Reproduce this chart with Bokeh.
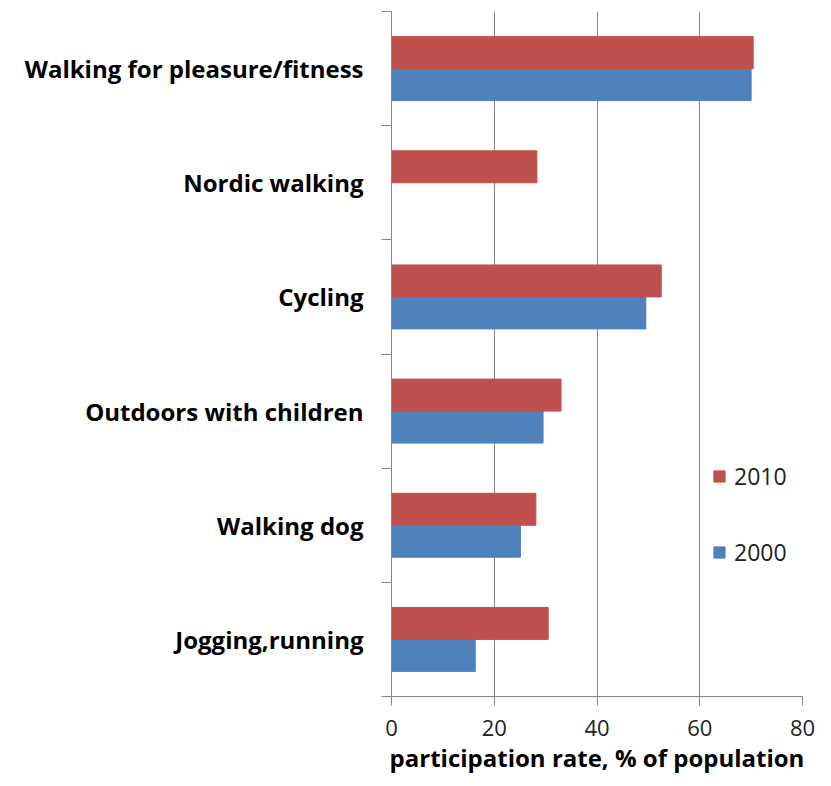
from bokeh.plotting import figure
from bokeh.models import FixedTicker, Legend, LegendItem, ColumnDataSource, Range1d
from bokeh.embed import file_html
from bokeh.resources import INLINE

categories = ["Walking for pleasure/fitness", "Nordic walking", "Cycling",
              "Outdoors with children", "Walking dog", "Jogging,running"]
values_2010 = [70.4, 28.3, 52.5, 33.0, 28.1, 30.5]
values_2000 = [70.0, 0.0, 49.5, 29.5, 25.1, 16.3]
x_ticks = [0, 20, 40, 60, 80]
series_names = ["2010", "2000"]
colors = ["#C0504D", "#4F81BD"]

n = len(categories)
centers = [n - i - 0.5 for i in range(n)]
bar_h = 0.28
GRAY = "#868686"
FONT = "Open Sans"

p = figure(frame_width=411, frame_height=685, output_backend="svg", toolbar_location=None,
           x_range=Range1d(0, 80), y_range=Range1d(0, n),
           min_border_left=391, min_border_top=11, min_border_right=13, min_border_bottom=74)
p.outline_line_color = None

src10 = ColumnDataSource(dict(y=[c + bar_h / 2 for c in centers], v=values_2010))
src00 = ColumnDataSource(dict(y=[c - bar_h / 2 for c in centers], v=values_2000))
r00 = p.hbar(y="y", right="v", left=0, height=bar_h, source=src00,
             fill_color=colors[1], line_color=colors[1])
r10 = p.hbar(y="y", right="v", left=0, height=bar_h, source=src10,
             fill_color=colors[0], line_color=colors[0])

# x axis
p.xaxis.ticker = FixedTicker(ticks=x_ticks)
p.xaxis.axis_line_color = GRAY
p.xaxis.major_tick_line_color = GRAY
p.xaxis.major_tick_out = 9
p.xaxis.major_tick_in = 0
p.xaxis.minor_tick_line_color = None
p.xaxis.major_label_text_font = FONT
p.xaxis.major_label_text_font_size = "22px"
p.xaxis.major_label_text_color = "#222222"
p.xaxis.major_label_standoff = 14
p.xaxis.axis_label = "participation rate, % of population"
p.xaxis.axis_label_text_font = FONT
p.xaxis.axis_label_text_font_style = "bold"
p.xaxis.axis_label_text_font_size = "24px"
p.xaxis.axis_label_text_color = "black"
p.xaxis.axis_label_standoff = 2

# y axis
p.yaxis.ticker = FixedTicker(ticks=centers, minor_ticks=list(range(n + 1)))
p.yaxis.major_label_overrides = {c: cat for c, cat in zip(centers, categories)}
p.yaxis.axis_line_color = GRAY
p.yaxis.major_tick_line_color = None
p.yaxis.major_tick_out = 0
p.yaxis.major_tick_in = 0
p.yaxis.minor_tick_line_color = GRAY
p.yaxis.minor_tick_out = 10
p.yaxis.minor_tick_in = 0
p.yaxis.major_label_text_font = FONT
p.yaxis.major_label_text_font_style = "bold"
p.yaxis.major_label_text_font_size = "24px"
p.yaxis.major_label_text_color = "black"
p.yaxis.major_label_standoff = 18

p.xgrid.ticker = FixedTicker(ticks=x_ticks)
p.xgrid.grid_line_color = GRAY
p.ygrid.grid_line_color = None

legend = Legend(items=[LegendItem(label=series_names[0], renderers=[r10]),
                       LegendItem(label=series_names[1], renderers=[r00])],
                location=(321, 128))
legend.background_fill_alpha = 0
legend.border_line_color = None
legend.label_text_font = FONT
legend.label_text_font_size = "23px"
legend.label_text_color = "#222222"
legend.glyph_width = 14
legend.glyph_height = 14
legend.spacing = 44
legend.padding = 0
legend.margin = 0
legend.label_standoff = 8
p.add_layout(legend)

open("out.html", "w").write(file_html(p, INLINE))
